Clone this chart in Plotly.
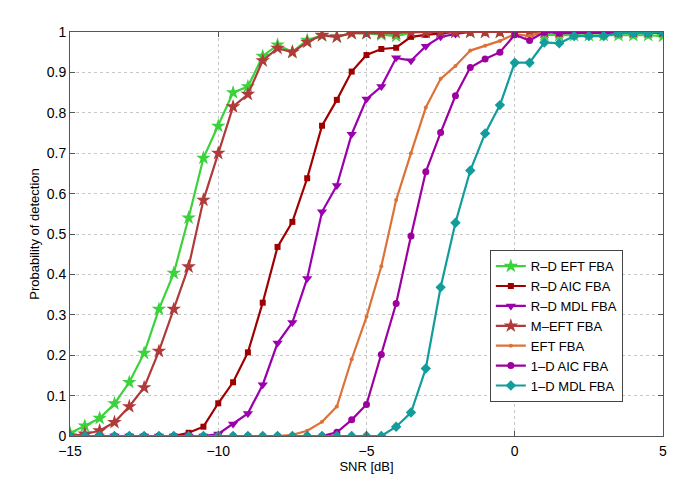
import plotly.graph_objects as go

# SNR values in dB, 0.5 dB steps
snr = [-15 + 0.5 * i for i in range(41)]

rd_eft = [0.007, 0.025, 0.044, 0.08, 0.133, 0.205, 0.314, 0.403, 0.54, 0.688,
          0.767, 0.85, 0.865, 0.94, 0.968, 0.951, 0.98, 0.991, 0.988, 0.997,
          0.997, 0.993, 0.99, 0.998, 1.0, 1.0, 1.0, 1.0, 1.0, 1.0,
          1.0, 1.0, 0.993, 0.992, 0.992, 0.992, 0.992, 0.992, 0.992, 0.992, 0.99]
rd_aic = [0, 0, 0, 0, 0, 0, 0, 0, 0.008, 0.023,
          0.081, 0.133, 0.207, 0.33, 0.468, 0.53, 0.638, 0.768, 0.832, 0.902,
          0.943, 0.958, 0.961, 0.988, 0.993, 0.997, 1.0, 1.0, 1.0, 1.0,
          1.0, 1.0, 1.0, 1.0, 1.0, 1.0, 1.0, 1.0, 1.0, 1.0, 1.0]
rd_mdl = [0, 0, 0, 0, 0, 0, 0, 0, 0, 0,
          0.005, 0.03, 0.056, 0.127, 0.23, 0.281, 0.39, 0.555, 0.62, 0.747,
          0.834, 0.865, 0.936, 0.929, 0.965, 0.988, 0.995, 1.0, 1.0, 1.0,
          1.0, 1.0, 1.0, 1.0, 1.0, 1.0, 1.0, 1.0, 1.0, 1.0, 1.0]
m_eft = [0.0, 0.005, 0.013, 0.034, 0.073, 0.12, 0.21, 0.314, 0.419, 0.584,
         0.70, 0.815, 0.846, 0.929, 0.96, 0.95, 0.975, 0.992, 0.988, 0.997,
         0.997, 0.997, 0.997, 1.0, 1.0, 1.0, 1.0, 1.0, 1.0, 1.0,
         1.0, 1.0, 1.0, 1.0, 1.0, 1.0, 1.0, 1.0, 1.0, 1.0, 1.0]
eft = [0, 0, 0, 0, 0, 0, 0, 0, 0, 0,
       0, 0, 0, 0, 0, 0.003, 0.013, 0.035, 0.073, 0.19,
       0.295, 0.42, 0.584, 0.70, 0.813, 0.884, 0.916, 0.954, 0.966, 0.978,
       0.995, 0.99, 1.0, 1.0, 1.0, 1.0, 1.0, 1.0, 1.0, 1.0, 1.0]
od_aic = [0, 0, 0, 0, 0, 0, 0, 0, 0, 0,
          0, 0, 0, 0, 0, 0, 0, 0, 0.009, 0.04,
          0.078, 0.202, 0.328, 0.495, 0.654, 0.751, 0.842, 0.912, 0.933, 0.95,
          0.993, 0.979, 1.0, 0.997, 0.998, 0.998, 0.998, 0.998, 0.998, 0.998, 0.998]
od_mdl = [0, 0, 0, 0, 0, 0, 0, 0, 0, 0,
          0, 0, 0, 0, 0, 0, 0, 0, 0, 0,
          0, 0, 0.023, 0.058, 0.167, 0.368, 0.528, 0.657, 0.749, 0.819,
          0.924, 0.924, 0.974, 0.972, 0.99, 0.99, 0.99, 0.997, 0.997, 0.997, 1.0]

series = [
    ("R\u2013D EFT FBA", rd_eft, "#3BD23B", "star", 11),
    ("R\u2013D AIC FBA", rd_aic, "#A00000", "square", 6),
    ("R\u2013D MDL FBA", rd_mdl, "#9A00AE", "triangle-down", 9),
    ("M\u2013EFT FBA", m_eft, "#B03A3A", "star", 11),
    ("EFT FBA", eft, "#DC7238", "circle", 4),
    ("1\u2013D AIC FBA", od_aic, "#9E00A0", "circle", 7),
    ("1\u2013D MDL FBA", od_mdl, "#129C9C", "diamond", 8),
]

fig = go.Figure()
for name, ys, color, symbol, size in series:
    fig.add_trace(go.Scatter(
        x=snr,
        y=ys,
        mode="lines+markers",
        name=name,
        line=dict(color=color, width=2.2),
        marker=dict(color=color, symbol=symbol, size=size, line=dict(width=0)),
    ))

axis_style = dict(
    showline=True,
    linecolor="#555555",
    linewidth=1,
    mirror="ticks",
    ticks="inside",
    ticklen=5,
    tickcolor="#555555",
    showgrid=True,
    gridcolor="#C8C8C8",
    griddash="dot",
    gridwidth=1,
    zeroline=False,
    automargin=False,
    tickfont=dict(size=14, color="black"),
)

# the page body adds 8px on the left and top, so margins are trimmed to match
fig.update_layout(
    width=685,
    height=484,
    font=dict(family="Liberation Sans, Arial, sans-serif", size=13, color="black"),
    paper_bgcolor="white",
    plot_bgcolor="white",
    margin=dict(l=62, r=30, t=24, b=56),
    showlegend=True,
    legend=dict(
        x=0.708,
        y=0.46,
        xanchor="left",
        yanchor="top",
        bgcolor="white",
        bordercolor="#444444",
        borderwidth=1,
        font=dict(size=13),
        tracegroupgap=0,
        itemwidth=30,
    ),
)
fig.update_xaxes(
    range=[-15, 5],
    tickvals=[-15, -10, -5, 0, 5],
    ticktext=["\u221215", "\u221210", "\u22125", "0", "5"],
    ticklabelstandoff=2,
    title=dict(text="SNR [dB]", font=dict(size=13), standoff=0),
    **axis_style,
)
fig.update_yaxes(
    range=[0, 1],
    tickvals=[0, 0.1, 0.2, 0.3, 0.4, 0.5, 0.6, 0.7, 0.8, 0.9, 1],
    ticktext=["0", "0.1", "0.2", "0.3", "0.4", "0.5", "0.6", "0.7", "0.8", "0.9", "1"],
    title=dict(text="Probability of detection", font=dict(size=13), standoff=4),
    **axis_style,
)

fig.write_html("out.html")
